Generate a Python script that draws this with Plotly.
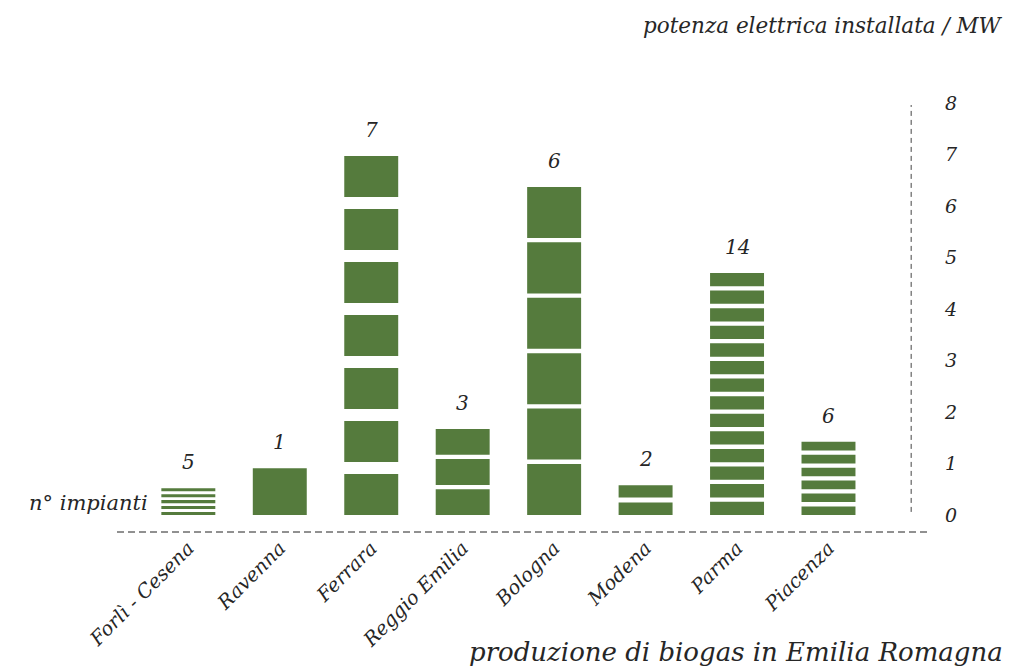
import plotly.graph_objects as go

# Biogas plants per province: number of plants and installed electric power (MW)
province = ["Forlì - Cesena", "Ravenna", "Ferrara", "Reggio Emilia",
            "Bologna", "Modena", "Parma", "Piacenza"]
n_impianti = [5, 1, 7, 3, 6, 2, 14, 6]
potenza_mw = [0.52, 0.91, 6.97, 1.67, 6.37, 0.58, 4.70, 1.42]

# y ticks on the right-hand scale
y_ticks = [0, 1, 2, 3, 4, 5, 6, 7, 8]

# styling
GREEN = "#557B3D"
INK = "#262626"
FONT = "DejaVu Serif"
W, H = 1036, 670
M_L, M_R, M_T, M_B = 117, 106, 60, 138
Y_RANGE = [-0.33, 8.835]
X_RANGE = [-0.78, 8.11]
BAR_W = 0.59
# white gap between stacked plant blocks, in pixels
GAP_PX = {"Ferrara": 12, "Forlì - Cesena": 2.8, "Modena": 5}
GAP_DEFAULT_PX = 4.3

px_per_unit = (H - M_T - M_B) / (Y_RANGE[1] - Y_RANGE[0])

fig = go.Figure()

for i, (name, n, p) in enumerate(zip(province, n_impianti, potenza_mw)):
    gap = GAP_PX.get(name, GAP_DEFAULT_PX) / px_per_unit
    seg = (p - (n - 1) * gap) / n
    bases = [k * (seg + gap) for k in range(n)]
    fig.add_trace(go.Bar(
        x=[i] * n,
        y=[seg] * n,
        base=bases,
        width=BAR_W,
        marker=dict(color=GREEN, line=dict(width=0)),
        hoverinfo="skip",
        showlegend=False,
    ))
    # plant count above each column
    fig.add_annotation(
        x=i, y=p, text=str(n), showarrow=False,
        yanchor="bottom", yshift=12,
        font=dict(family=FONT, size=20, color=INK, style="italic"),
    )

# right vertical dashed guide next to the scale
fig.add_shape(type="line", xref="x", yref="y", x0=7.904, x1=7.904, y0=0.06, y1=7.96,
              line=dict(color="#444", width=1, dash="5px,4px"))
# bottom dashed baseline
fig.add_shape(type="line", xref="paper", yref="paper", x0=0, x1=1, y0=0, y1=0,
              line=dict(color="#222", width=1, dash="7px,4px"))

fig.add_annotation(
    x=-0.42, y=0.23, xref="x", yref="y", text="n° impianti", showarrow=False,
    xanchor="right", yanchor="middle",
    font=dict(family=FONT, size=21, color=INK, style="italic"),
)
fig.add_annotation(
    x=1005, y=25, xref="paper", yref="paper", text="potenza elettrica installata / MW",
    showarrow=False, xanchor="right", yanchor="middle",
    font=dict(family=FONT, size=21.5, color=INK, style="italic"),
)
fig.add_annotation(
    x=1005, y=652, xref="paper", yref="paper", text="produzione di biogas in Emilia Romagna",
    showarrow=False, xanchor="right", yanchor="middle",
    font=dict(family=FONT, size=26, color=INK, style="italic"),
)

# convert the two title annotations from pixel positions to paper units
pw = W - M_L - M_R
ph = H - M_T - M_B
for a in fig.layout.annotations[-2:]:
    a.x = (a.x - M_L) / pw
    a.y = (H - M_B - a.y) / ph

fig.update_layout(
    width=W, height=H,
    margin=dict(l=M_L, r=M_R, t=M_T, b=M_B),
    paper_bgcolor="white", plot_bgcolor="white",
    barmode="overlay",
    xaxis=dict(
        range=X_RANGE, tickmode="array", tickvals=list(range(len(province))),
        ticktext=province, tickangle=-45, showgrid=False, zeroline=False,
        showline=False, ticks="",
        tickfont=dict(family=FONT, size=19.5, color=INK, style="italic"),
    ),
    yaxis=dict(
        range=Y_RANGE, side="right", tickmode="array", tickvals=y_ticks,
        showgrid=False, zeroline=False, showline=False, ticks="",
        ticklabelstandoff=14,
        tickfont=dict(family=FONT, size=19, color=INK, style="italic"),
    ),
)

fig.write_html("out.html")
